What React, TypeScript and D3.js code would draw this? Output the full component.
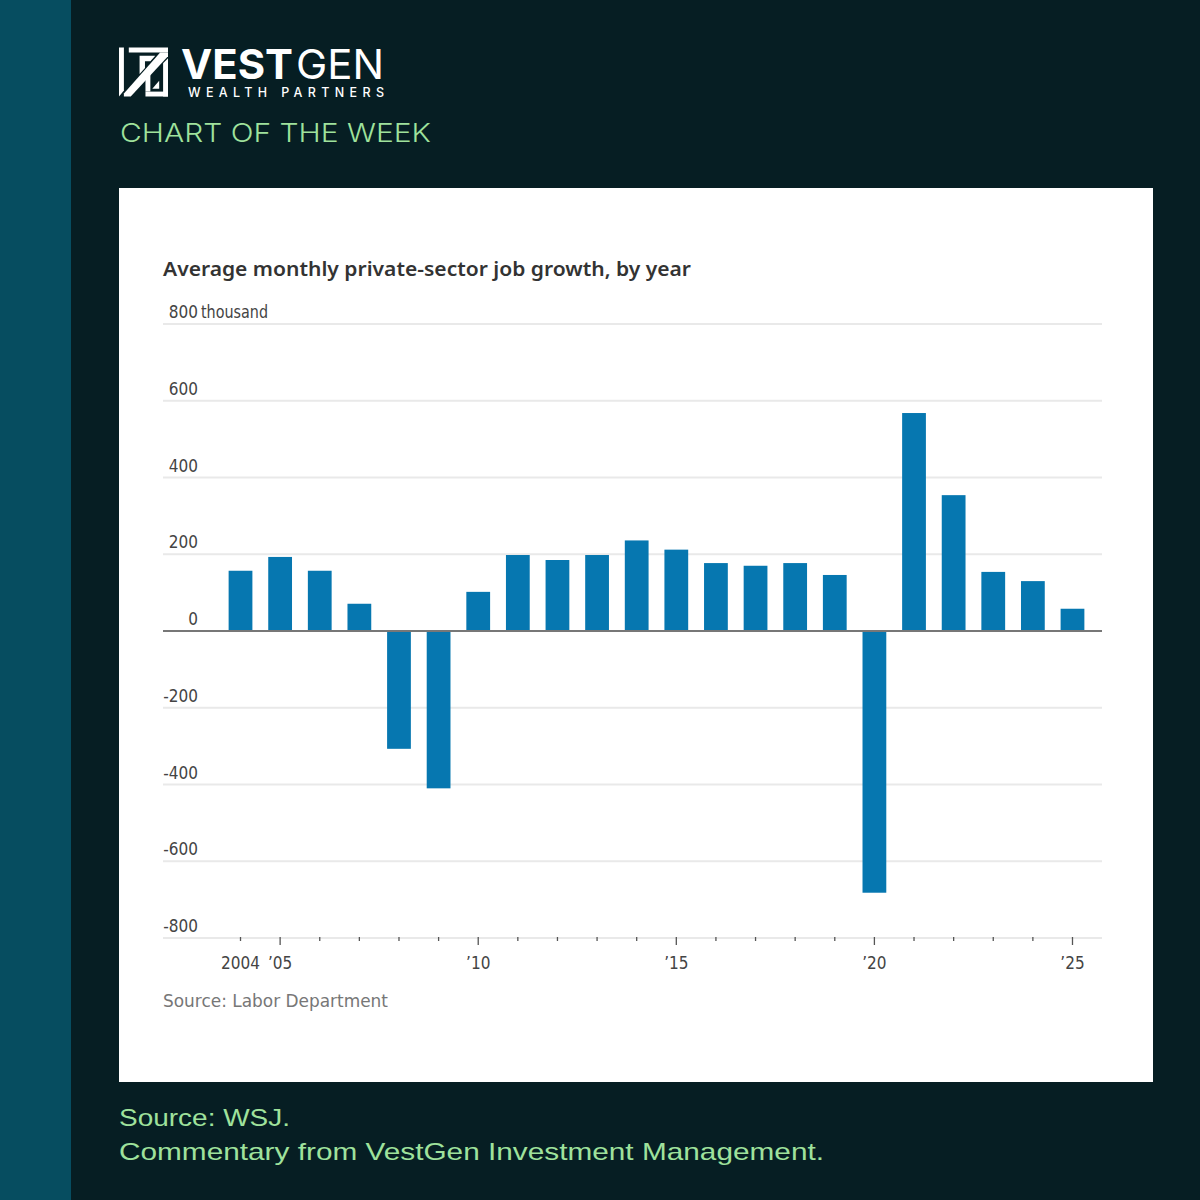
import React, { useRef, useEffect } from "react";
import * as d3 from "d3";

// Average monthly private-sector job growth (thousands)
const years = [
    2004, 2005, 2006, 2007, 2008, 2009, 2010, 2011, 2012, 2013, 2014,
    2015, 2016, 2017, 2018, 2019, 2020, 2021, 2022, 2023, 2024, 2025,
];
const jobGrowth = [
    157, 193, 157, 71, -307, -410, 102, 198, 185, 198, 236,
    212, 177, 170, 177, 146, -682, 568, 354, 154, 130, 58,
];

const yTickValues = [-800, -600, -400, -200, 0, 200, 400, 600, 800];
const yTickLabels = ["-800", "-600", "-400", "-200", "0", "200", "400", "600", "800"];
const xLabelYears = [2004, 2005, 2010, 2015, 2020, 2025];
const xLabelTexts = ["2004", "\u201905", "\u201910", "\u201915", "\u201920", "\u201925"];

const chartFont = "'Liberation Sans Narrow', 'DejaVu Sans Condensed', 'Roboto', sans-serif";

const App: React.FC = () => {
    const svgRef = useRef<SVGSVGElement | null>(null);

    useEffect(() => {
        const width = 1200;
        const height = 1200;
        const svg = d3.select(svgRef.current).attr("width", width).attr("height", height);
        svg.selectAll("*").remove();

        // Background, side strip and white panel
        svg.append("rect").attr("width", width).attr("height", height).attr("fill", "#061e23");
        svg.append("rect").attr("width", 71).attr("height", height).attr("fill", "#064d60");
        svg.append("rect").attr("x", 119).attr("y", 188).attr("width", 1034).attr("height", 894).attr("fill", "#ffffff");

        // Logo mark (rough shapes of the icon, unit square coords)
        const ix = 119, iy = 47.5, is = 49;
        const logoShapes = [
            [[0, 0], [0.1, 0], [0.1, 0.88], [0, 1]], // left bar
            [[0.2, 0], [1, 0], [1, 0.1], [0.2, 0.1]], // top bar
            [[0.84, 0.1], [1, 0.1], [1, 0.18], [0.24, 1], [0.1, 1], [0.1, 0.94]], // diagonal
            [[0.42, 0.17], [0.74, 0.17], [0.64, 0.28], [0.53, 0.28], [0.53, 0.42], [0.42, 0.54]], // inner corner
            [[0.9, 0.32], [1, 0.22], [1, 1], [0.9, 1]], // right bar
            [[0.54, 0.9], [1, 0.9], [1, 1], [0.54, 1]], // bottom bar
            [[0.54, 0.64], [0.64, 0.53], [0.64, 0.9], [0.54, 0.9]], // inner G stem
            [[0.68, 0.84], [0.82, 0.68], [0.82, 0.84]], // inner triangle
        ];
        svg.append("g")
            .selectAll("polygon")
            .data(logoShapes)
            .enter()
            .append("polygon")
            .attr("points", (d) => d.map(([u, v]) => `${ix + u * is},${iy + v * is}`).join(" "))
            .attr("fill", "#ffffff");

        svg.append("text")
            .attr("x", 181).attr("y", 78.5)
            .attr("font-family", "Inter, 'Open Sans', sans-serif")
            .attr("font-weight", 700).attr("font-size", 41)
            .attr("textLength", 112).attr("lengthAdjust", "spacingAndGlyphs")
            .attr("fill", "#ffffff").text("VEST");
        svg.append("text")
            .attr("x", 296).attr("y", 78.5)
            .attr("font-family", "Inter, 'Open Sans', sans-serif")
            .attr("font-weight", 400).attr("font-size", 41)
            .attr("textLength", 88).attr("lengthAdjust", "spacingAndGlyphs")
            .attr("fill", "#ffffff").text("GEN");
        svg.append("text")
            .attr("x", 188).attr("y", 96.7)
            .attr("font-family", "Inter, 'Open Sans', sans-serif")
            .attr("font-weight", 500).attr("font-size", 12.5)
            .attr("textLength", 196).attr("lengthAdjust", "spacing")
            .attr("fill", "#ffffff").text("WEALTH PARTNERS");
        svg.append("text")
            .attr("x", 120).attr("y", 141.5)
            .attr("font-family", "Inter, 'Open Sans', sans-serif")
            .attr("font-weight", 300).attr("font-size", 26)
            .attr("textLength", 311).attr("lengthAdjust", "spacingAndGlyphs")
            .attr("fill", "#9fe29c").text("CHART OF THE WEEK");

        // Footer
        svg.append("text")
            .attr("x", 119).attr("y", 1126)
            .attr("font-family", "'Liberation Sans', Arial, sans-serif")
            .attr("font-size", 24)
            .attr("textLength", 171).attr("lengthAdjust", "spacingAndGlyphs")
            .attr("fill", "#9fe29c").text("Source: WSJ.");
        svg.append("text")
            .attr("x", 119).attr("y", 1160)
            .attr("font-family", "'Liberation Sans', Arial, sans-serif")
            .attr("font-size", 24)
            .attr("textLength", 705).attr("lengthAdjust", "spacingAndGlyphs")
            .attr("fill", "#9fe29c").text("Commentary from VestGen Investment Management.");

        // Chart title
        svg.append("text")
            .attr("x", 163).attr("y", 276)
            .attr("font-family", "'Noto Sans', 'Open Sans', sans-serif")
            .attr("font-weight", 600).attr("font-size", 20)
            .attr("textLength", 528).attr("lengthAdjust", "spacingAndGlyphs")
            .attr("fill", "#333333").text("Average monthly private-sector job growth, by year");

        // Scales
        const xScale = d3
            .scaleBand<number>()
            .domain(years)
            .range([220.7, 1092.3])
            .paddingInner(0.4)
            .paddingOuter(0.2);
        const yScale = d3.scaleLinear().domain([-800, 800]).range([938, 324]);
        const xCenter = (yr: number) => (xScale(yr) ?? 0) + xScale.bandwidth() / 2;

        // Gridlines
        svg.append("g")
            .selectAll("line")
            .data(yTickValues.filter((v) => v !== 0))
            .enter()
            .append("line")
            .attr("x1", 163).attr("x2", 1102)
            .attr("y1", (d) => yScale(d)).attr("y2", (d) => yScale(d))
            .attr("stroke", "#e9e9e9").attr("stroke-width", 2);

        // Y labels
        svg.append("g")
            .selectAll("text")
            .data(yTickValues)
            .enter()
            .append("text")
            .attr("x", 198)
            .attr("y", (d) => yScale(d) - 6)
            .attr("text-anchor", "end")
            .attr("font-family", chartFont).attr("font-size", 17)
            .attr("fill", "#444444")
            .text((d, i) => yTickLabels[i]);
        svg.append("text")
            .attr("x", 201).attr("y", yScale(800) - 6)
            .attr("font-family", chartFont).attr("font-size", 17)
            .attr("textLength", 67).attr("lengthAdjust", "spacingAndGlyphs")
            .attr("fill", "#444444").text("thousand");

        // Bars
        svg.append("g")
            .selectAll("rect")
            .data(years)
            .enter()
            .append("rect")
            .attr("x", (d) => xScale(d) ?? 0)
            .attr("y", (d, i) => yScale(Math.max(0, jobGrowth[i])))
            .attr("width", xScale.bandwidth())
            .attr("height", (d, i) => Math.abs(yScale(jobGrowth[i]) - yScale(0)))
            .attr("fill", "#0677b0");

        // Zero line
        svg.append("line")
            .attr("x1", 163).attr("x2", 1102)
            .attr("y1", yScale(0)).attr("y2", yScale(0))
            .attr("stroke", "#777777").attr("stroke-width", 2);

        // X ticks
        svg.append("g")
            .selectAll("line")
            .data(years)
            .enter()
            .append("line")
            .attr("x1", (d) => xCenter(d)).attr("x2", (d) => xCenter(d))
            .attr("y1", yScale(-800) - 1)
            .attr("y2", (d) => yScale(-800) + (d % 5 === 0 ? 7 : 3))
            .attr("stroke", "#555555").attr("stroke-width", 1.3);

        svg.append("g")
            .selectAll("text")
            .data(xLabelYears)
            .enter()
            .append("text")
            .attr("x", (d) => xCenter(d))
            .attr("y", 969)
            .attr("text-anchor", "middle")
            .attr("font-family", chartFont).attr("font-size", 17)
            .attr("fill", "#444444")
            .text((d, i) => xLabelTexts[i]);

        // Source
        svg.append("text")
            .attr("x", 163).attr("y", 1007)
            .attr("font-family", chartFont).attr("font-size", 18)
            .attr("textLength", 225).attr("lengthAdjust", "spacingAndGlyphs")
            .attr("fill", "#777777").text("Source: Labor Department");
    }, []);

    return <svg ref={svgRef} style={{ position: "absolute", left: 0, top: 0, display: "block" }} />;
};

export default App;
